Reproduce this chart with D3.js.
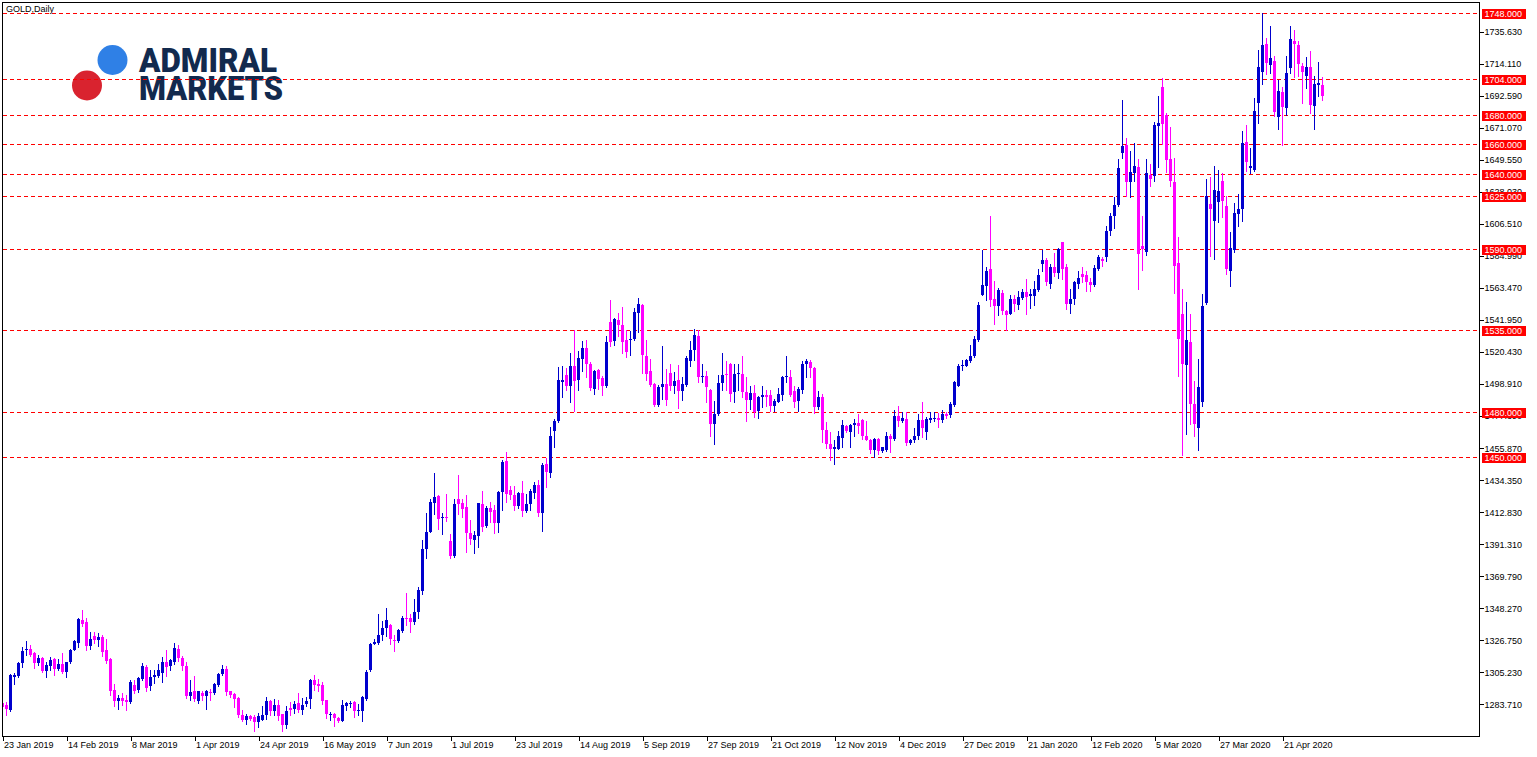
<!DOCTYPE html>
<html><head><meta charset="utf-8">
<script src="https://cdn.jsdelivr.net/npm/d3@7"></script>
<style>html,body{margin:0;padding:0;background:#fff;overflow:hidden}</style>
</head><body>
<svg id="chart" width="1537" height="757"></svg>
<script>
const chartTitle = "GOLD,Daily";
const openP = [
1284.6,1283.0,1279.6,1302.1,1302.5,1311.5,1320.1,1320.7,1318.5,1311.5,
1314.9,1305.9,1309.3,1314.2,1307.2,1310.6,1305.5,1312.2,1320.5,1325.2,
1340.2,1338.9,1323.0,1329.5,1326.8,1329.0,1320.1,1314.0,1293.1,1285.9,
1287.7,1286.6,1285.3,1296.7,1293.6,1300.5,1308.8,1295.8,1302.1,1302.5,
1304.8,1312.2,1309.3,1312.2,1321.2,1315.1,1309.3,1289.1,1292.4,1285.9,
1291.5,1289.1,1292.0,1291.3,1296.5,1303.9,1307.2,1292.4,1290.9,1288.0,
1276.3,1273.4,1275.6,1275.2,1271.8,1273.4,1276.3,1285.7,1279.0,1283.0,
1277.0,1269.5,1281.2,1280.5,1284.6,1280.1,1283.7,1287.1,1299.8,1297.1,
1296.5,1286.4,1276.3,1277.4,1274.3,1272.5,1282.6,1283.7,1285.5,1279.0,
1279.0,1287.5,1306.6,1324.5,1325.0,1330.1,1335.3,1336.9,1327.2,1326.3,
1333.0,1342.0,1342.0,1338.7,1345.8,1360.0,1387.8,1399.7,1419.2,1423.7,
1409.1,1409.8,1393.7,1383.3,1421.5,1418.8,1416.1,1398.6,1394.1,1397.0,
1418.3,1403.5,1415.4,1414.3,1405.8,1426.6,1447.3,1427.8,1424.4,1417.0,
1426.0,1413.9,1418.3,1426.0,1431.1,1412.1,1445.3,1439.4,1467.7,1473.8,
1500.0,1505.2,1497.3,1511.2,1501.4,1515.9,1523.1,1512.6,1495.5,1508.1,
1502.9,1497.3,1540.4,1527.6,1542.2,1538.8,1528.3,1528.3,1529.4,1546.7,
1552.3,1518.0,1507.9,1499.1,1485.0,1496.9,1499.1,1506.3,1497.8,1501.8,
1494.0,1498.4,1514.2,1522.0,1531.4,1503.8,1504.5,1495.1,1472.0,1478.7,
1499.6,1505.4,1512.6,1493.3,1505.4,1505.9,1493.7,1487.9,1492.8,1480.5,
1489.9,1491.5,1491.5,1484.5,1487.2,1491.3,1503.4,1503.4,1494.0,1487.7,
1495.1,1512.4,1513.7,1509.7,1483.2,1490.2,1468.2,1458.7,1455.1,1455.6,
1463.0,1470.9,1467.0,1471.1,1472.7,1474.9,1464.1,1461.0,1454.7,1461.9,
1454.2,1454.7,1464.1,1461.9,1477.6,1474.4,1475.6,1459.2,1461.0,1463.7,
1474.9,1466.4,1474.9,1475.6,1476.0,1474.9,1478.7,1478.3,1485.0,1497.8,
1510.8,1511.2,1514.2,1518.0,1528.8,1559.0,1565.1,1576.3,1556.1,1551.2,
1560.2,1548.3,1545.9,1556.4,1551.9,1557.1,1560.9,1558.2,1558.2,1562.0,
1579.5,1582.2,1566.5,1577.3,1573.4,1594.1,1577.3,1552.6,1556.1,1566.5,
1572.8,1572.1,1567.8,1565.6,1576.2,1582.9,1584.0,1601.5,1611.6,1619.5,
1654.0,1659.6,1634.5,1640.8,1644.6,1591.9,1587.4,1639.4,1639.0,1672.6,
1698.4,1680.0,1650.2,1634.5,1580.0,1546.3,1511.5,1527.5,1485.7,1469.1,
1487.2,1553.7,1619.9,1608.2,1621.0,1635.2,1618.8,1574.6,1588.9,1613.2,
1616.5,1661.4,1644.1,1642.8,1687.7,1708.5,1727.6,1713.5,1716.0,1678.3,
1695.1,1684.5,1711.2,1729.4,1726.9,1713.0,1706.3,1711.9,1685.7,1700.2,
1699.6];
const highP = [
1285.3,1285.3,1303.9,1304.8,1312.2,1322.3,1326.1,1323.4,1318.9,1316.7,
1315.6,1312.2,1315.6,1314.9,1314.4,1318.2,1312.2,1321.2,1327.2,1341.4,
1347.0,1341.4,1332.4,1332.4,1331.3,1330.1,1327.9,1315.1,1297.1,1289.7,
1291.3,1289.7,1300.3,1299.8,1302.1,1311.5,1309.9,1306.6,1306.6,1311.1,
1315.6,1320.5,1314.4,1325.0,1323.4,1316.0,1312.2,1299.8,1302.5,1292.7,
1292.7,1293.1,1294.2,1298.0,1304.8,1310.4,1309.7,1292.7,1291.5,1288.6,
1279.6,1277.4,1276.3,1276.3,1277.9,1282.3,1288.6,1286.8,1287.5,1286.8,
1277.4,1282.3,1285.3,1285.7,1291.3,1288.2,1288.6,1301.0,1303.2,1300.5,
1298.7,1286.8,1278.5,1277.9,1275.2,1286.8,1285.3,1285.9,1285.9,1283.7,
1289.1,1306.6,1325.0,1327.9,1344.3,1339.6,1348.1,1337.6,1330.1,1334.0,
1342.9,1358.2,1344.7,1354.2,1362.7,1394.1,1412.1,1421.5,1439.4,1424.4,
1412.5,1425.1,1398.1,1421.5,1437.9,1421.5,1424.4,1407.6,1400.4,1419.2,
1427.1,1417.0,1419.7,1417.7,1427.3,1447.9,1453.3,1430.5,1430.5,1426.6,
1434.0,1425.1,1428.2,1433.4,1434.5,1446.2,1449.1,1469.9,1475.3,1510.3,
1511.2,1509.7,1519.8,1535.5,1520.9,1527.6,1528.3,1513.5,1508.5,1509.0,
1504.5,1531.0,1555.7,1543.3,1546.7,1550.7,1535.0,1534.3,1550.1,1556.8,
1553.0,1528.3,1515.9,1499.6,1498.4,1524.7,1509.0,1512.6,1506.8,1511.9,
1503.6,1517.5,1527.6,1536.2,1535.0,1512.6,1507.9,1495.5,1487.7,1505.2,
1519.8,1514.6,1513.0,1512.6,1512.6,1517.5,1503.4,1497.3,1498.5,1491.1,
1497.8,1495.1,1495.1,1489.0,1496.2,1504.5,1518.0,1508.6,1497.3,1496.9,
1514.2,1515.7,1515.3,1510.1,1494.4,1492.4,1473.1,1467.0,1461.0,1467.7,
1474.9,1471.5,1472.2,1475.3,1478.9,1475.6,1473.8,1461.9,1462.5,1462.5,
1456.9,1466.6,1465.5,1481.6,1484.3,1480.1,1480.1,1461.9,1469.3,1478.9,
1487.2,1477.1,1480.1,1480.1,1479.4,1481.2,1480.3,1486.6,1500.7,1512.6,
1515.3,1515.7,1525.4,1531.4,1553.9,1588.7,1577.7,1611.8,1568.0,1563.5,
1562.0,1549.0,1558.9,1558.9,1561.6,1562.7,1569.4,1562.7,1568.3,1576.2,
1588.9,1583.5,1579.5,1586.7,1590.3,1594.1,1579.9,1562.7,1568.3,1574.6,
1577.3,1575.0,1570.1,1578.8,1585.6,1584.4,1605.3,1613.6,1624.4,1650.2,
1689.9,1664.3,1655.8,1660.7,1650.2,1611.6,1650.2,1646.8,1674.9,1692.4,
1704.5,1680.9,1671.5,1650.6,1597.9,1563.1,1554.4,1546.3,1501.0,1516.1,
1559.6,1636.7,1637.9,1645.3,1642.8,1640.5,1625.5,1600.8,1620.4,1626.6,
1669.3,1673.3,1657.4,1691.3,1723.6,1748.3,1731.6,1739.5,1719.3,1703.4,
1698.4,1719.3,1739.5,1736.6,1729.2,1714.6,1718.6,1722.7,1706.3,1715.3,
1705.2];
const lowP = [
1281.4,1276.3,1279.2,1297.6,1302.1,1308.8,1316.7,1316.0,1308.4,1309.9,
1305.5,1302.1,1307.0,1303.2,1306.6,1304.8,1302.1,1311.5,1320.1,1322.3,
1336.2,1320.1,1320.9,1325.0,1322.7,1316.0,1311.5,1289.7,1282.3,1280.3,
1283.0,1280.1,1284.6,1291.3,1292.0,1299.8,1292.7,1293.6,1298.1,1302.1,
1298.7,1302.5,1306.6,1311.1,1312.9,1307.0,1288.2,1286.4,1285.7,1284.6,
1286.8,1280.8,1286.8,1290.4,1295.8,1303.2,1289.7,1288.6,1281.9,1275.2,
1272.5,1270.2,1273.4,1265.7,1268.4,1272.9,1274.0,1276.3,1276.3,1272.9,
1265.7,1268.0,1276.3,1277.9,1278.5,1277.4,1282.3,1281.4,1293.6,1292.7,
1284.1,1274.7,1273.4,1268.9,1271.8,1272.5,1279.6,1281.9,1275.2,1276.3,
1272.5,1286.8,1306.1,1324.1,1324.5,1326.8,1329.5,1324.5,1319.6,1325.7,
1332.4,1336.9,1332.4,1338.0,1341.4,1357.7,1382.2,1399.3,1411.6,1401.5,
1398.1,1407.1,1381.8,1382.9,1411.6,1409.3,1386.2,1391.4,1385.6,1389.6,
1400.4,1402.6,1406.4,1399.0,1399.7,1414.3,1419.9,1421.7,1414.3,1415.4,
1410.3,1412.7,1414.3,1422.1,1410.3,1400.4,1430.0,1436.7,1456.5,1473.1,
1490.1,1495.1,1487.2,1480.5,1495.1,1507.4,1503.6,1495.1,1492.4,1495.5,
1491.7,1496.9,1524.7,1525.4,1531.4,1519.8,1516.8,1518.6,1528.7,1533.7,
1506.3,1501.8,1497.3,1484.3,1484.3,1488.8,1485.0,1495.1,1492.8,1482.7,
1488.4,1497.8,1510.8,1515.3,1500.0,1500.0,1486.6,1464.1,1458.7,1478.3,
1495.1,1495.1,1487.7,1486.6,1495.1,1490.2,1473.8,1482.1,1476.7,1476.0,
1483.4,1483.9,1480.5,1480.5,1487.2,1487.9,1500.0,1490.6,1483.2,1481.0,
1492.8,1503.4,1503.6,1479.4,1482.1,1460.3,1455.8,1448.0,1445.3,1455.1,
1456.5,1467.0,1456.3,1464.1,1465.9,1461.9,1461.0,1452.9,1449.8,1452.0,
1453.6,1454.2,1453.6,1461.0,1470.9,1473.1,1458.0,1458.7,1460.3,1462.1,
1463.2,1461.9,1473.1,1473.8,1470.4,1473.1,1476.0,1476.7,1483.9,1497.8,
1508.6,1510.8,1513.5,1516.9,1527.6,1559.0,1555.2,1551.6,1539.5,1545.6,
1546.3,1535.5,1545.9,1548.1,1549.2,1555.9,1546.3,1549.9,1552.1,1561.6,
1575.0,1565.6,1563.4,1571.7,1570.5,1569.4,1549.2,1547.0,1553.0,1563.8,
1567.8,1561.6,1561.6,1564.9,1575.5,1578.4,1581.8,1599.3,1603.7,1618.8,
1650.9,1625.5,1624.4,1635.2,1562.7,1575.5,1585.8,1632.2,1635.6,1645.0,
1660.3,1641.2,1632.2,1560.4,1504.3,1451.2,1465.1,1472.2,1463.9,1454.9,
1484.1,1552.6,1585.1,1582.9,1607.6,1611.0,1573.2,1564.7,1588.0,1605.3,
1608.7,1641.9,1640.5,1642.4,1674.2,1700.7,1707.4,1707.9,1679.4,1670.4,
1659.8,1680.0,1707.9,1705.6,1706.3,1687.7,1698.0,1680.9,1670.4,1692.2,
1689.9];
const closeP = [
1281.9,1280.3,1303.2,1303.2,1311.5,1319.4,1321.2,1316.7,1311.5,1315.1,
1305.9,1309.9,1313.8,1307.5,1310.6,1305.5,1312.0,1320.5,1326.1,1340.9,
1337.5,1323.0,1327.9,1326.8,1329.0,1318.9,1312.6,1292.7,1285.9,1287.7,
1285.7,1285.3,1298.7,1292.7,1301.4,1309.3,1294.9,1302.1,1303.2,1307.0,
1312.2,1308.8,1313.3,1321.8,1315.1,1309.3,1289.1,1291.8,1287.1,1292.4,
1289.1,1292.4,1291.3,1297.1,1303.9,1307.7,1292.0,1290.0,1287.3,1276.3,
1272.9,1275.6,1274.0,1271.8,1275.6,1276.7,1285.7,1279.0,1283.5,1275.6,
1269.5,1279.0,1279.6,1284.1,1279.6,1283.5,1285.7,1299.8,1296.9,1295.8,
1285.9,1277.4,1277.4,1274.7,1272.5,1283.0,1284.8,1284.8,1279.2,1279.6,
1288.6,1305.5,1324.5,1325.6,1330.1,1335.3,1340.2,1327.9,1326.3,1333.5,
1342.0,1340.9,1339.1,1345.8,1360.4,1387.8,1399.3,1419.9,1422.8,1408.2,
1409.8,1409.1,1383.3,1418.1,1418.3,1415.0,1399.0,1394.8,1397.5,1419.2,
1403.1,1415.4,1413.2,1405.3,1426.6,1446.8,1425.1,1424.4,1417.0,1426.0,
1413.9,1418.3,1427.1,1431.1,1412.5,1444.6,1440.1,1464.1,1474.2,1501.4,
1501.4,1497.3,1511.2,1500.7,1516.4,1523.1,1512.6,1496.2,1507.4,1502.3,
1497.8,1526.9,1526.9,1542.7,1538.8,1526.9,1520.2,1529.2,1547.4,1552.8,
1518.6,1505.9,1498.4,1485.0,1496.9,1499.1,1487.9,1497.8,1501.1,1494.0,
1499.1,1516.4,1522.0,1532.1,1503.4,1504.5,1496.7,1472.2,1478.7,1499.6,
1505.2,1504.7,1492.4,1505.9,1506.1,1493.3,1488.4,1492.8,1480.1,1490.2,
1491.5,1489.9,1483.9,1487.7,1492.4,1503.6,1504.5,1491.7,1487.2,1495.5,
1512.6,1514.6,1509.7,1483.2,1490.2,1468.2,1458.7,1455.6,1456.3,1463.7,
1471.5,1467.5,1471.3,1472.7,1470.9,1464.1,1461.4,1454.7,1461.9,1454.2,
1456.3,1464.1,1461.9,1477.6,1474.4,1476.0,1459.6,1461.4,1464.1,1474.9,
1469.3,1475.6,1476.0,1476.0,1474.9,1478.7,1477.6,1485.7,1500.0,1511.2,
1511.5,1515.3,1518.0,1529.2,1552.1,1565.5,1574.8,1555.7,1551.6,1562.4,
1547.8,1545.6,1556.4,1552.6,1557.5,1560.9,1557.5,1559.3,1563.1,1572.1,
1582.2,1567.2,1577.3,1573.9,1589.6,1576.2,1552.6,1556.4,1567.2,1570.5,
1571.2,1567.2,1565.6,1576.6,1584.0,1581.3,1601.5,1611.6,1619.5,1643.9,
1658.7,1634.5,1641.2,1645.3,1586.2,1589.6,1640.8,1636.7,1673.1,1674.2,
1673.8,1649.5,1635.2,1578.4,1529.5,1512.2,1528.6,1485.7,1472.2,1496.9,
1551.6,1625.5,1616.5,1629.3,1628.9,1621.7,1576.2,1590.7,1613.6,1616.5,
1660.7,1647.9,1645.3,1682.7,1711.9,1726.9,1714.6,1718.0,1681.6,1695.8,
1685.0,1708.1,1730.5,1727.6,1714.2,1708.5,1711.9,1686.5,1700.7,1701.1,
1692.2];
const xTickLabels = ["23 Jan 2019","14 Feb 2019","8 Mar 2019","1 Apr 2019","24 Apr 2019","16 May 2019",
 "7 Jun 2019","1 Jul 2019","23 Jul 2019","14 Aug 2019","5 Sep 2019","27 Sep 2019","21 Oct 2019",
 "12 Nov 2019","4 Dec 2019","27 Dec 2019","21 Jan 2020","12 Feb 2020","5 Mar 2020","27 Mar 2020","21 Apr 2020"];
const barsPerXTick = 16;
const yTickValues = [1283.71,1305.23,1326.75,1348.27,1369.79,1391.31,1412.83,1434.35,1455.87,1477.39,
 1498.91,1520.43,1541.95,1563.47,1584.99,1606.51,1628.03,1649.55,1671.07,1692.59,1714.11,1735.63];
const levels = [1748, 1704, 1680, 1660, 1640, 1625, 1590, 1535, 1480, 1450];

const bars = openP.map((o, i) => ({i, o, h: highP[i], l: lowP[i], c: closeP[i]}));

const W = 1537, H = 757;
const plot = {left: 2, top: 2, right: 1479, bottom: 736};
const svg = d3.select("#chart");
const font = "'Liberation Sans', Arial, sans-serif";

const x = d3.scaleLinear().domain([0, 1]).range([2.5, 6.5]);
const y = d3.scaleLinear().domain([1262.4, 1755.7]).range([plot.bottom, plot.top]);

svg.append("rect").attr("width", W).attr("height", H).attr("fill", "#fff");

const defs = svg.append("defs");
defs.append("clipPath").attr("id", "clip").append("rect")
  .attr("x", plot.left + 1).attr("y", plot.top + 1)
  .attr("width", plot.right - plot.left - 1).attr("height", plot.bottom - plot.top - 1);

// logo
const logo = svg.append("g");
logo.append("circle").attr("cx", 112.5).attr("cy", 60).attr("r", 15).attr("fill", "#2f80e6");
logo.append("circle").attr("cx", 87).attr("cy", 85.5).attr("r", 15).attr("fill", "#d9232f");
logo.append("text").attr("x", 139).attr("y", 71.5).text("ADMIRAL")
  .attr("font-family", "Roboto, 'Open Sans', sans-serif").attr("font-weight", 900)
  .attr("font-size", 34).attr("fill", "#122a4e")
  .attr("textLength", 138).attr("lengthAdjust", "spacingAndGlyphs");
logo.append("text").attr("x", 139).attr("y", 99.5).text("MARKETS")
  .attr("font-family", "Roboto, 'Open Sans', sans-serif").attr("font-weight", 900)
  .attr("font-size", 34).attr("fill", "#122a4e")
  .attr("textLength", 144).attr("lengthAdjust", "spacingAndGlyphs");

// level lines (background, behind candles)
const lg = svg.append("g").attr("shape-rendering", "crispEdges");
lg.selectAll("line").data(levels).join("line")
  .attr("x1", plot.left + 1).attr("x2", plot.right)
  .attr("y1", d => Math.round(y(d)) + 0.5).attr("y2", d => Math.round(y(d)) + 0.5)
  .attr("stroke", "#ff0000").attr("stroke-width", 1).attr("stroke-dasharray", "4,3");

// candles
const up = "#0000cd", down = "#ff00ff";
const cg = svg.append("g").attr("clip-path", "url(#clip)").attr("shape-rendering", "crispEdges");
cg.selectAll("rect.wick").data(bars).join("rect").attr("class", "wick")
  .attr("x", d => x(d.i) - 0.5).attr("width", 1)
  .attr("y", d => Math.round(y(d.h)))
  .attr("height", d => Math.max(1, Math.round(y(d.l)) - Math.round(y(d.h)) + 1))
  .attr("fill", d => d.c >= d.o ? up : down);
cg.selectAll("rect.body").data(bars).join("rect").attr("class", "body")
  .attr("x", d => x(d.i) - 1.5).attr("width", 3)
  .attr("y", d => Math.round(y(Math.max(d.o, d.c))))
  .attr("height", d => Math.max(1, Math.round(y(Math.min(d.o, d.c))) - Math.round(y(Math.max(d.o, d.c)))))
  .attr("fill", d => d.c >= d.o ? up : down);

// frame
svg.append("rect").attr("x", plot.left + 0.5).attr("y", plot.top + 0.5)
  .attr("width", plot.right - plot.left).attr("height", plot.bottom - plot.top)
  .attr("fill", "none").attr("stroke", "#000").attr("stroke-width", 1)
  .attr("shape-rendering", "crispEdges");

// right axis
const yAxis = d3.axisRight(y).tickValues(yTickValues).tickSize(4).tickPadding(1)
  .tickFormat(d3.format(".3f"));
const ya = svg.append("g").attr("transform", `translate(${plot.right + 0.5},0)`).call(yAxis);
ya.select(".domain").remove();
ya.selectAll("line").attr("stroke", "#000").attr("shape-rendering", "crispEdges");
ya.selectAll("text").attr("font-family", font).attr("font-size", 9).attr("fill", "#000");

// bottom axis
const xTickIdx = xTickLabels.map((_, k) => k * barsPerXTick);
const xAxis = d3.axisBottom(x).tickValues(xTickIdx).tickSize(4)
  .tickFormat((d, k) => xTickLabels[k]);
const xa = svg.append("g").attr("transform", `translate(0,${plot.bottom + 0.5})`).call(xAxis);
xa.select(".domain").remove();
xa.selectAll("line").attr("stroke", "#000").attr("shape-rendering", "crispEdges");
xa.selectAll("text").attr("font-family", font).attr("font-size", 9).attr("fill", "#000")
  .attr("text-anchor", "start").attr("x", 1).attr("y", 5).attr("dy", "0.71em");

// level labels
const ll = svg.append("g");
ll.selectAll("rect").data(levels).join("rect")
  .attr("x", plot.right + 3).attr("width", 44)
  .attr("y", d => Math.round(y(d)) - 4.5).attr("height", 10)
  .attr("fill", "#ff0000").attr("shape-rendering", "crispEdges");
ll.selectAll("text").data(levels).join("text")
  .attr("x", plot.right + 5.5).attr("y", d => Math.round(y(d)) + 0.5).attr("dy", "0.35em")
  .attr("font-family", font).attr("font-size", 9).attr("fill", "#fff")
  .text(d => d3.format(".3f")(d));

// title
svg.append("text").attr("x", 6).attr("y", 11.5).text(chartTitle)
  .attr("font-family", font).attr("font-size", 9).attr("fill", "#000");
</script>
</body></html>
